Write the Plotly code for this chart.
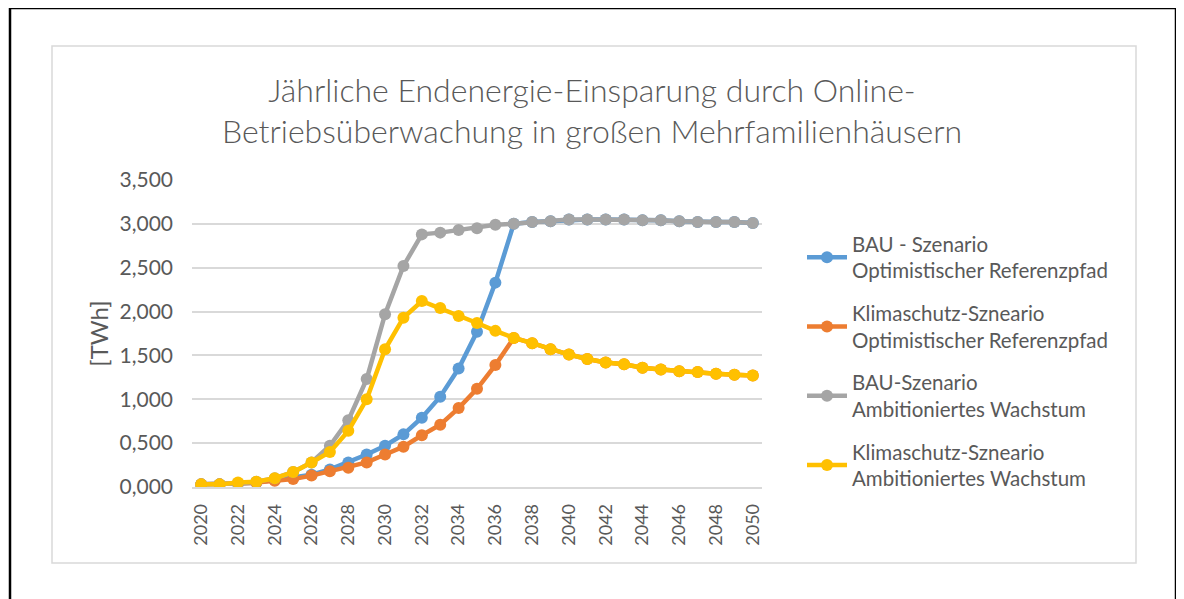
import plotly.graph_objects as go

years = list(range(2020, 2051))

bau_ref = [0.03, 0.03, 0.04, 0.05, 0.08, 0.11, 0.14, 0.20, 0.28, 0.37, 0.47, 0.60, 0.79, 1.03, 1.35, 1.77,
           2.33, 3.00, 3.02, 3.03, 3.05, 3.05, 3.05, 3.05, 3.04, 3.04, 3.03, 3.02, 3.02, 3.02, 3.01]
klima_ref = [0.03, 0.03, 0.04, 0.05, 0.07, 0.09, 0.13, 0.18, 0.22, 0.28, 0.37, 0.46, 0.59, 0.71, 0.90, 1.12,
             1.39, 1.70, 1.64, 1.57, 1.51, 1.46, 1.42, 1.40, 1.36, 1.34, 1.32, 1.31, 1.29, 1.28, 1.27]
bau_amb = [0.03, 0.03, 0.04, 0.06, 0.10, 0.17, 0.28, 0.47, 0.76, 1.23, 1.97, 2.52, 2.88, 2.90, 2.93, 2.95,
           2.99, 3.00, 3.02, 3.03, 3.05, 3.05, 3.05, 3.05, 3.04, 3.04, 3.03, 3.02, 3.02, 3.02, 3.01]
klima_amb = [0.03, 0.03, 0.05, 0.06, 0.10, 0.17, 0.28, 0.40, 0.64, 1.00, 1.57, 1.93, 2.12, 2.04, 1.95, 1.87,
             1.78, 1.70, 1.64, 1.57, 1.51, 1.46, 1.42, 1.40, 1.36, 1.34, 1.32, 1.31, 1.29, 1.28, 1.27]

names = [
    "BAU - Szenario<br>Optimistischer Referenzpfad",
    "Klimaschutz-Szneario<br>Optimistischer Referenzpfad",
    "BAU-Szenario<br>Ambitioniertes Wachstum",
    "Klimaschutz-Szneario<br>Ambitioniertes Wachstum",
]
series = [bau_ref, klima_ref, bau_amb, klima_amb]
colors = ["#5B9BD5", "#ED7D31", "#A5A5A5", "#FFC000"]
x_ticks = years[::2]

title_text = "Jährliche Endenergie-Einsparung durch Online-<br>Betriebsüberwachung in großen Mehrfamilienhäusern"

FONT = "Lato"
TXT = "#595959"

fig = go.Figure()
for i, (nm, vals, col) in enumerate(zip(names, series, colors)):
    fig.add_trace(go.Scatter(
        x=years, y=vals, name=nm, mode="lines+markers",
        line=dict(color=col, width=4.5),
        marker=dict(color=col, size=12, symbol="circle"),
        legendgroup="g%d" % i,
    ))

# the page body adds an 8px offset; work in screen pixels and subtract it
OFF = 8
W, H = 1184, 599
SL, SR, ST, SB = 192, 762, 180, 487          # plot area in screen pixels
L, R, T, B = SL - OFF, SR - OFF, ST - OFF, SB - OFF
pw, ph = R - L, B - T

def px(xs):
    return (xs - SL) / pw

def py(ys):
    return (SB - ys) / ph

fig.update_layout(
    width=W, height=H,
    margin=dict(l=L, r=W - R, t=T, b=H - B, pad=0),
    paper_bgcolor="white", plot_bgcolor="white",
    separators=",.",
    font=dict(family=FONT, color=TXT, size=20),
    title=dict(text=title_text, x=0.5 - OFF / W, xref="container", xanchor="center",
               y=1 - 93.5 / H, yref="container", yanchor="middle",
               font=dict(family=FONT, size=32, color=TXT, weight=300)),
    xaxis=dict(range=[2019.5, 2050.5], tickmode="array", tickvals=x_ticks,
               ticktext=[str(v) for v in x_ticks], tickangle=-90,
               showgrid=False, showline=True, linecolor="#D9D9D9", linewidth=1.5,
               ticks="", zeroline=False, tickfont=dict(size=18, color=TXT),
               ticklabelstandoff=8),
    yaxis=dict(range=[0, 3.5], dtick=0.5, tickformat=".3f",
               showgrid=True, gridcolor="#D9D9D9", gridwidth=1.5,
               zeroline=False, showline=False, ticks="",
               tickfont=dict(size=21, color=TXT), ticklabelstandoff=18,
               title=dict(text="[TWh]", font=dict(size=24, color=TXT), standoff=4)),
    legend=dict(x=px(802), y=py(224), xanchor="left", yanchor="top",
                font=dict(size=20.5, color=TXT), tracegroupgap=13,
                itemwidth=40, bgcolor="rgba(0,0,0,0)"),
    showlegend=True,
    shapes=[
        dict(type="rect", xref="paper", yref="paper",
             x0=px(52), x1=px(1136), y0=py(563), y1=py(46),
             line=dict(color="#D9D9D9", width=1.5), layer="below"),
        dict(type="rect", xref="paper", yref="paper",
             x0=px(10), x1=px(1176), y0=py(640), y1=py(8),
             line=dict(color="black", width=2.5), layer="below"),
    ],
)

fig.write_html("out.html")
